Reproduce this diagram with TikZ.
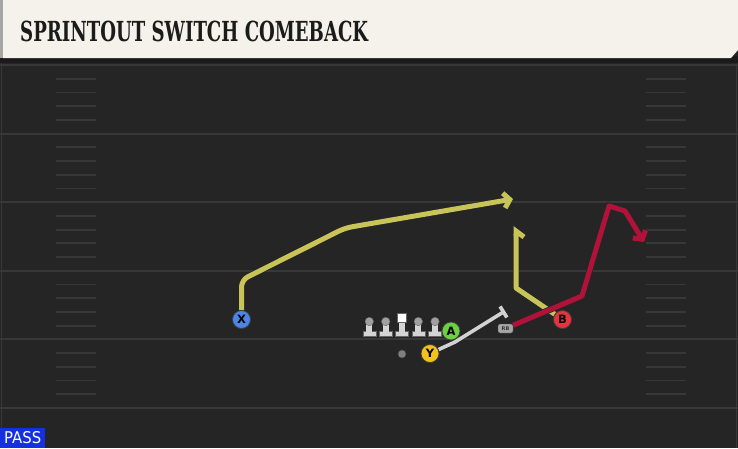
\documentclass[tikz,border=0pt]{standalone}
\usepackage{fontspec}
\usepackage{graphicx}
\usetikzlibrary{arrows.meta}
\newfontfamily\titlefont{DejaVu Serif}
\newfontfamily\labelfont{DejaVu Sans}
\definecolor{fieldbg}{HTML}{252525}
\definecolor{fieldline}{HTML}{383838}
\definecolor{cream}{HTML}{F4F2EB}
\definecolor{hdrdark}{HTML}{1A1A1A}
\definecolor{titleink}{HTML}{1B1B1B}
\definecolor{routeyellow}{HTML}{C8C458}
\definecolor{routered}{HTML}{B0123A}
\definecolor{routegray}{HTML}{D2D2D2}
\definecolor{xblue}{HTML}{4A86E8}
\definecolor{agreen}{HTML}{6CD13E}
\definecolor{yyellow}{HTML}{F2C21B}
\definecolor{bred}{HTML}{E8333F}
\definecolor{passblue}{HTML}{1530E0}
\definecolor{linebody}{HTML}{D4D4D4}
\definecolor{linehead}{HTML}{A0A0A0}
\pgfdeclarelayer{field}
\pgfdeclarelayer{routes}
\pgfsetlayers{field,routes,main}
\tikzset{
  majorline/.style={draw=fieldline, line width=2pt},
  hashline/.style={draw=fieldline, line width=1.8pt},
  player/.style={circle, draw=black!75, line width=0.8pt, minimum size=18pt, inner sep=0pt,
    text=black, font=\labelfont\bfseries\fontsize{11.5}{11.5}\selectfont},
  yroute/.style={draw=routeyellow, line width=5pt, line join=round,
    preaction={draw=black!85, line width=6.4pt}},
  rroute/.style={draw=routered, line width=5pt, line join=round,
    preaction={draw=black!85, line width=6.4pt}},
  groute/.style={draw=routegray, line width=3.6pt, line join=round,
    preaction={draw=black!85, line width=4.8pt}},
  routetip/.style={-{Straight Barb[length=6pt, width=15pt]}},
  linehead/.style={circle, fill=linehead, draw=black!60, line width=0.4pt, minimum size=8.5pt, inner sep=0pt},
}
\begin{document}
\begin{tikzpicture}[x=1pt, y=-1pt]
\useasboundingbox (0,0) rectangle (738,448);
\begin{pgfonlayer}{field}
  \fill[fieldbg] (0,0) rectangle (738,448);
  \fill[hdrdark] (0,56) rectangle (738,63);
  \fill[cream] (3,0) -- (738,0) -- (738,50) -- (731,58) -- (3,58) -- cycle;
  \fill[black!35] (0,0) rectangle (3,58);
  \draw[fieldline, line width=1pt] (1.5,63) -- (1.5,448);
  \draw[fieldline, line width=1pt] (736.5,63) -- (736.5,448);
  \foreach \k in {0,...,5} {
    \draw[majorline] (0,{65+\k*68.6}) -- (738,{65+\k*68.6});
  }
  \foreach \k in {0,...,4} {
    \foreach \j in {1,...,4} {
      \draw[hashline] (56,{65+\k*68.6+\j*13.72}) -- (96,{65+\k*68.6+\j*13.72});
      \draw[hashline] (646,{65+\k*68.6+\j*13.72}) -- (686,{65+\k*68.6+\j*13.72});
    }
  }
\end{pgfonlayer}

% title and play type
\node[anchor=south west, inner sep=0pt, text=titleink] (title) at (20,42.3)
  {\resizebox{348pt}{20.5pt}{\titlefont\bfseries SPRINTOUT SWITCH COMEBACK}};
\node[anchor=south west, fill=passblue, minimum width=45pt, minimum height=20pt, inner sep=0pt,
  text=white] (pass) at (0,448) {\resizebox{37pt}{12pt}{\labelfont PASS}};

% offensive line
\foreach \n/\x in {lt/369.3, lg/385.7, rg/418.3, rt/435} {
  \fill[linebody, draw=black!60, line width=0.4pt] (\x-6.5,331) rectangle (\x+6.5,336);
  \fill[linebody] (\x-3,323) rectangle (\x+3,332);
  \node[linehead] (\n) at (\x,321.5) {};
}
\fill[linebody, draw=black!60, line width=0.4pt] (395.2,331) rectangle (408.2,336);
\fill[linebody] (398.7,321) rectangle (404.7,332);
\node[rectangle, fill=white, draw=black!60, line width=0.4pt, minimum size=9pt, inner sep=0pt] (c) at (401.7,318) {};

% backs and receivers
\node[circle, fill=black!50, draw=black!70, line width=0.4pt, minimum size=8pt, inner sep=0pt] (qb) at (402,354) {};
\node[player, fill=xblue] (X) at (241.5,319.5) {X};
\node[player, fill=agreen] (A) at (451,331) {A};
\node[player, fill=yyellow] (Y) at (430,353.5) {Y};
\node[player, fill=bred] (B) at (562.5,319.5) {B};
\node[rectangle, rounded corners=2pt, fill=black!35, draw=black!70, line width=0.4pt,
  minimum width=15pt, minimum height=9pt, inner sep=0pt, text=black!80,
  font=\labelfont\bfseries\fontsize{5}{5}\selectfont] (RB) at (505.5,328.5) {RB};

% route waypoints
\coordinate (xc) at (241.5,280);
\coordinate (xm) at (345,228);
\coordinate (xe) at (513,199);
\coordinate (bc) at (516,288);
\coordinate (be) at (516,226);
\coordinate (r1) at (582,296);
\coordinate (r2) at (609,206);
\coordinate (r3) at (625,211);
\coordinate (re) at (644,242);
\coordinate (g1) at (455,342);
\coordinate (ge) at (505,311);

\begin{pgfonlayer}{routes}
  \draw[yroute, routetip, rounded corners=7pt] (X) -- (xc) -- (xm) -- (xe);
  \draw[yroute, -{Straight Barb[harpoon, swap, length=6pt, width=16pt]}] (B) -- (bc) -- (be);
  \draw[rroute, routetip] (RB) -- (r1) -- (r2) -- (r3) -- (re);
  \draw[groute, -{Bar[width=13pt]}] (Y) -- (g1) -- (ge);
\end{pgfonlayer}
\end{tikzpicture}
\end{document}
